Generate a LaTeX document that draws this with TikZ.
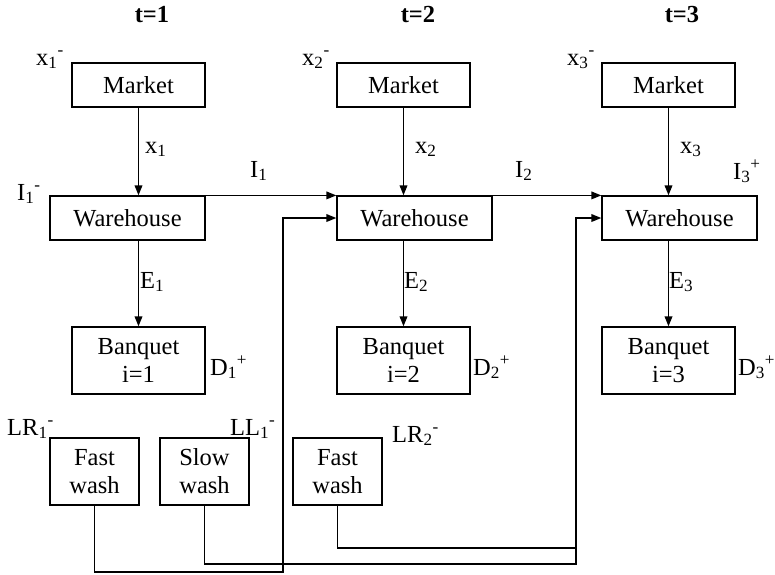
\documentclass[tikz,border=0pt]{standalone}
\usepackage{fontspec}
\setmainfont{Liberation Serif}
\usetikzlibrary{arrows.meta}
\newcommand{\lbl}[3]{#1\textsubscript{#2}\textsuperscript{#3}}
\begin{document}
\begin{tikzpicture}[x=1pt,y=-1pt,line cap=rect]
	\tikzstyle{kuang}=[draw,line width=1.2pt,inner sep=0pt,align=center,font=\fontsize{24.5}{28}\selectfont];
	\tikzstyle{zi}=[inner sep=0pt,font=\fontsize{24.5}{28}\selectfont];
	\tikzstyle{jian}=[line width=1.8pt,-{Triangle[length=10pt,width=7.5pt]}];
	\useasboundingbox (0,0) rectangle (775,574);
	%% periods
	\node[zi,font=\fontsize{24.5}{28}\selectfont\bfseries] (t1) at (152,15) {t=1};
	\node[zi,font=\fontsize{24.5}{28}\selectfont\bfseries] (t2) at (418,15) {t=2};
	\node[zi,font=\fontsize{24.5}{28}\selectfont\bfseries] (t3) at (682,15) {t=3};
	%% boxes
	\node[kuang,minimum width=133pt,minimum height=44pt] (m1) at (138.5,85)  {Market};
	\node[kuang,minimum width=133pt,minimum height=44pt] (m2) at (403.5,85)  {Market};
	\node[kuang,minimum width=133pt,minimum height=44pt] (m3) at (668.5,85)  {Market};
	\node[kuang,minimum width=155pt,minimum height=44pt] (w1) at (127.5,218) {Warehouse};
	\node[kuang,minimum width=155pt,minimum height=44pt] (w2) at (414.5,218) {Warehouse};
	\node[kuang,minimum width=155pt,minimum height=44pt] (w3) at (679.5,218) {Warehouse};
	\node[kuang,minimum width=133pt,minimum height=67pt] (b1) at (138.5,360.5) {Banquet\\i=1};
	\node[kuang,minimum width=133pt,minimum height=67pt] (b2) at (403.5,360.5) {Banquet\\i=2};
	\node[kuang,minimum width=133pt,minimum height=67pt] (b3) at (668.5,360.5) {Banquet\\i=3};
	\node[kuang,minimum width=89pt,minimum height=67pt]  (fw1) at (94.5,471.5)  {Fast\\wash};
	\node[kuang,minimum width=89pt,minimum height=67pt]  (sw1) at (204.5,471.5) {Slow\\wash};
	\node[kuang,minimum width=89pt,minimum height=67pt]  (fw2) at (337.5,471.5) {Fast\\wash};
	%% labels
	\node[zi,anchor=base west] (lx1m) at (36,65)   {\lbl{x}{1}{-}};
	\node[zi,anchor=base west] (lx2m) at (302,65)  {\lbl{x}{2}{-}};
	\node[zi,anchor=base west] (lx3m) at (567,65)  {\lbl{x}{3}{-}};
	\node[zi,anchor=base west] (lx1)  at (145,153) {\lbl{x}{1}{}};
	\node[zi,anchor=base west] (lx2)  at (415,153) {\lbl{x}{2}{}};
	\node[zi,anchor=base west] (lx3)  at (680,153) {\lbl{x}{3}{}};
	\node[zi,anchor=base west] (lI1)  at (250,177) {\lbl{I}{1}{}};
	\node[zi,anchor=base west] (lI2)  at (515,177) {\lbl{I}{2}{}};
	\node[zi,anchor=base west] (lI1m) at (17,200)  {\lbl{I}{1}{-}};
	\node[zi,anchor=base west] (lI3p) at (733,179) {\lbl{I}{3}{+}};
	\node[zi,anchor=base west] (lE1)  at (140,288) {\lbl{E}{1}{}};
	\node[zi,anchor=base west] (lE2)  at (404,288) {\lbl{E}{2}{}};
	\node[zi,anchor=base west] (lE3)  at (669,288) {\lbl{E}{3}{}};
	\node[zi,anchor=base west] (lD1)  at (210,375) {\lbl{D}{1}{+}};
	\node[zi,anchor=base west] (lD2)  at (473,375) {\lbl{D}{2}{+}};
	\node[zi,anchor=base west] (lD3)  at (738,375) {\lbl{D}{3}{+}};
	\node[zi,anchor=base west] (lLR1) at (7,435)   {\lbl{LR}{1}{-}};
	\node[zi,anchor=base west] (lLL1) at (230,435) {\lbl{LL}{1}{-}};
	\node[zi,anchor=base west] (lLR2) at (392,442) {\lbl{LR}{2}{-}};
	%% flows
	\draw[jian] (m1) -- (m1 |- w1.north);
	\draw[jian] (m2) -- (m2 |- w2.north);
	\draw[jian] (m3) -- (m3 |- w3.north);
	\draw[jian] (b1 |- w1.south) -- (b1.north);
	\draw[jian] (b2 |- w2.south) -- (b2.north);
	\draw[jian] (b3 |- w3.south) -- (b3.north);
	\draw[jian] (w1.north east) -- (w2.north west);
	\draw[jian] (w2.north east) -- (w3.north west);
	%% washing returns
	\coordinate (j1) at (283,572);
	\coordinate (j2) at (576,564);
	\coordinate (j3) at (576,548);
	\draw[jian] (fw1.south) |- (j1) |- (w2.west);
	\draw[jian] (sw1.south) |- (j2) |- (w3.west);
	\draw[line width=1.8pt] (fw2.south) |- (j3);
\end{tikzpicture}
\end{document}
